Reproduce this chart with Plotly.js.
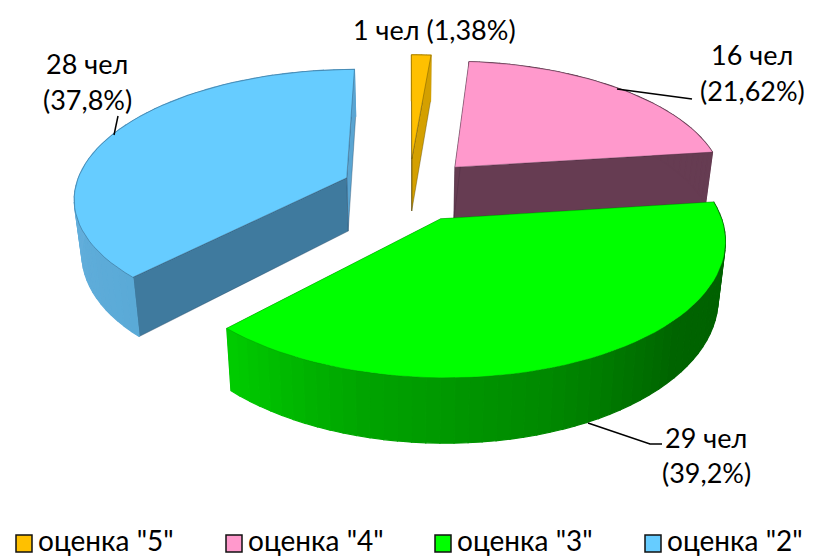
<!DOCTYPE html>
<html><head><meta charset="utf-8">
<script src="https://cdn.plot.ly/plotly-3.0.1.min.js"></script>
<style>html,body{margin:0;padding:0;background:#fff}</style></head>
<body><div id="chart" style="width:816px;height:557px"></div>
<script>
const categories = ['оценка "5"', 'оценка "4"', 'оценка "3"', 'оценка "2"'];
const counts = [1, 16, 29, 28];
const topColors = ['#FFC000', '#FF99CC', '#00FF00', '#66CCFF'];
const radialColors = ['#D4A000', '#663C52', '#00C800', '#3F7A9E'];
const edgeColors = ['rgba(90,70,0,.6)', 'rgba(70,40,60,.5)', 'rgba(0,120,0,.4)', 'rgba(30,60,90,.5)'];
// rim shading: [fraction along the slice, r, g, b]
const rimStops = [
  [[0, 212, 160, 0], [1, 212, 160, 0]],
  [[0, 102, 60, 82], [1, 102, 60, 82]],
  [[0, 0, 95, 0], [0.35, 0, 100, 0], [0.55, 0, 135, 0], [0.8, 0, 165, 0], [1, 0, 205, 0]],
  [[0, 90, 170, 215], [0.35, 100, 175, 220], [1, 90, 165, 210]]
];
const labelLines = [
  [['1 чел (1,38%)', 434, 29]],
  [['16 чел', 752, 54], ['(21,62%)', 752, 90]],
  [['29 чел', 706, 437], ['(39,2%)', 706, 472]],
  [['28 чел', 87, 63], ['(37,8%)', 87, 99]]
];
const leaders = [
  [[617, 89], [692, 99]],
  [[588, 423], [650, 444], [662, 444]],
  [[114, 135], [118, 116]]
];
const legendLeft = [16, 226, 435, 645];
// projection of the tilted pie
const cx = 409, cy = 189.5, R = 272, persp = 0.143, tilt = 127, depth = 54, taper = 0.977, explode = 0.25;

const total = counts.reduce((a, b) => a + b, 0);
function project(px, py) {
  const den = 1 + persp * py;
  const X = cx + R * px / den, Y = cy - tilt * py / den;
  return { top: [X, Y], bot: [cx + (X - cx) * taper, Y + depth / den] };
}
function mixColor(stops, f) {
  let i = 0;
  while (i < stops.length - 2 && f > stops[i + 1][0]) i++;
  const a = stops[i], b = stops[i + 1], t = Math.min(1, Math.max(0, (f - a[0]) / (b[0] - a[0])));
  return 'rgb(' + [1, 2, 3].map(k => Math.round(a[k] + (b[k] - a[k]) * t)).join(',') + ')';
}
function poly(pts, fill, line, width) {
  return { x: pts.map(p => p[0]).concat(pts[0][0]), y: pts.map(p => p[1]).concat(pts[0][1]),
    type: 'scatter', mode: 'lines', fill: 'toself', fillcolor: fill,
    line: { color: line || fill, width: width === undefined ? 1 : width },
    showlegend: false, hoverinfo: 'skip' };
}
const traces = [];
const sliceTraces = [];
let cum = 0;
counts.forEach((v, i) => {
  const a0 = cum / total * 2 * Math.PI, a1 = (cum + v) / total * 2 * Math.PI;
  cum += v;
  const mid = (a0 + a1) / 2;
  const ox = explode * Math.sin(mid), oy = explode * Math.cos(mid);
  const apex = project(ox, oy);
  const n = Math.max(4, Math.round((a1 - a0) / (2.5 * Math.PI / 180)));
  const rim = [];
  for (let j = 0; j <= n; j++) {
    const a = a0 + (a1 - a0) * j / n;
    rim.push(project(ox + Math.sin(a), oy + Math.cos(a)));
  }
  const out = [];
  // radial faces
  out.push(poly([apex.top, rim[n].top, rim[n].bot, apex.bot], i === 3 ? 'rgb(90,165,210)' : radialColors[i], edgeColors[i], 0.7));
  out.push(poly([apex.top, rim[0].top, rim[0].bot, apex.bot], radialColors[i], edgeColors[i], 0.7));
  // outer rim
  for (let j = 0; j < n; j++) {
    const c = mixColor(rimStops[i], (j + 0.5) / n);
    out.push(poly([rim[j].top, rim[j + 1].top, rim[j + 1].bot, rim[j].bot], c, c, 1.2));
  }
  // top face
  out.push(poly([apex.top].concat(rim.map(r => r.top)), topColors[i], edgeColors[i], 0.7));
  sliceTraces.push(out);
});
// painter's order: back slices first, the front slice last
[0, 3, 1, 2].forEach(i => sliceTraces[i].forEach(t => traces.push(t)));

const annotations = [];
labelLines.forEach(lines => lines.forEach(l => annotations.push({
  x: l[1], y: l[2], xref: 'x', yref: 'y', text: l[0], showarrow: false,
  xanchor: 'center', yanchor: 'middle', font: { family: 'Lato', size: 27, color: '#000' }
})));
const shapes = leaders.map(pts => ({
  type: 'path', xref: 'x', yref: 'y',
  path: pts.map((p, k) => (k ? 'L' : 'M') + p[0] + ' ' + p[1]).join(' '),
  line: { color: '#000', width: 1.5 }
}));
// legend row
categories.forEach((c, i) => {
  shapes.push({ type: 'rect', xref: 'x', yref: 'y', x0: legendLeft[i], x1: legendLeft[i] + 16, y0: 535, y1: 552,
    fillcolor: topColors[i], line: { color: '#111', width: 1.5 } });
  annotations.push({ x: legendLeft[i] + 20, y: 539.5, xref: 'x', yref: 'y', text: c, showarrow: false,
    xanchor: 'left', yanchor: 'middle', font: { family: 'Lato', size: 28, color: '#000' } });
});
Plotly.newPlot('chart', traces, {
  width: 816, height: 557, margin: { l: 0, r: 0, t: 0, b: 0 },
  paper_bgcolor: '#fff', plot_bgcolor: '#fff',
  xaxis: { range: [0, 816], visible: false, fixedrange: true },
  yaxis: { range: [557, 0], visible: false, fixedrange: true },
  showlegend: false,
  annotations, shapes
}, { staticPlot: true });
</script></body></html>
